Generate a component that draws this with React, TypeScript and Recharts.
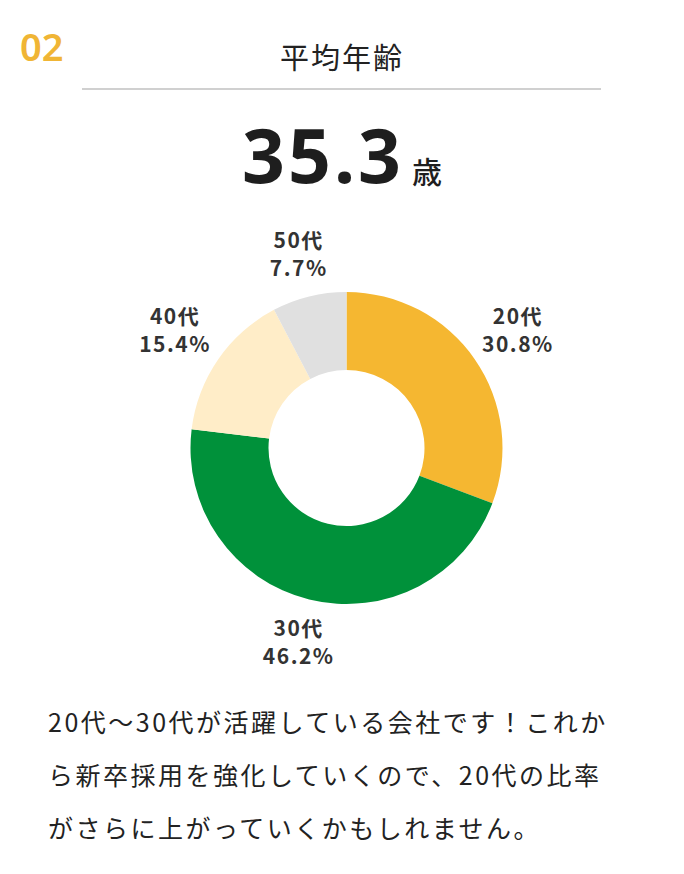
import React from 'react';
import { PieChart, Pie, Cell } from 'recharts';

const ageGroups = ['20代', '30代', '40代', '50代'];
const shares = [30.8, 46.2, 15.4, 7.7];
const sliceColors = ['#F5B731', '#00913A', '#FFEDC8', '#E0E0E0'];

const chartData = ageGroups.map((name, i) => ({ name, value: shares[i] }));

const RADIAN = Math.PI / 180;
const labelFont = '"Noto Sans CJK JP", "Noto Sans", sans-serif';

const renderLabel = (props: any) => {
  const { cx, cy, midAngle, index } = props;
  const c = Math.cos(-midAngle * RADIAN);
  const r = 196 + 15 * Math.abs(c);
  const x = cx + r * c;
  const y = cy + r * Math.sin(-midAngle * RADIAN);
  return (
    <text
      x={x}
      y={y}
      textAnchor="middle"
      fill="#333"
      fontSize={21}
      fontWeight={700}
      letterSpacing={1.5}
      fontFamily={labelFont}
    >
      <tspan x={x} dy={-6}>
        {ageGroups[index]}
      </tspan>
      <tspan x={x} dy={28}>
        {shares[index].toFixed(1)}%
      </tspan>
    </text>
  );
};

const App: React.FC = () => {
  return (
    <div
      style={{
        position: 'absolute',
        left: 0,
        top: 0,
        width: 684,
        height: 874,
        background: '#fff',
        fontFamily: labelFont,
        color: '#222',
      }}
    >
      <div
        style={{
          position: 'absolute',
          left: 20,
          top: 25,
          fontSize: 38,
          lineHeight: '42px',
          fontWeight: 600,
          color: '#F0B535',
          fontFamily: '"Noto Sans", sans-serif',
        }}
      >
        02
      </div>
      <div
        style={{
          position: 'absolute',
          left: 0,
          width: 684,
          top: 36,
          textAlign: 'center',
          fontSize: 29,
          lineHeight: '40px',
          fontWeight: 400,
          letterSpacing: 2,
        }}
      >
        平均年齢
      </div>
      <div
        style={{
          position: 'absolute',
          left: 82,
          width: 519,
          top: 88,
          height: 2,
          background: '#D0D0D0',
        }}
      />
      <div
        style={{
          position: 'absolute',
          left: 0,
          width: 684,
          top: 106,
          display: 'flex',
          justifyContent: 'center',
          alignItems: 'baseline',
          color: '#1E1E1E',
        }}
      >
        <span
          style={{
            fontSize: 75,
            fontWeight: 700,
            letterSpacing: 3,
            lineHeight: '96px',
            fontFamily: '"Noto Sans", sans-serif',
          }}
        >
          35.3
        </span>
        <span style={{ fontSize: 30, fontWeight: 500, marginLeft: 8 }}>歳</span>
      </div>
      <div style={{ position: 'absolute', left: 0, top: 203 }}>
        <PieChart width={684} height={480}>
          <Pie
            data={chartData}
            dataKey="value"
            nameKey="name"
            cx={341.5}
            cy={240}
            innerRadius={78}
            outerRadius={156}
            startAngle={90}
            endAngle={-270}
            stroke="none"
            labelLine={false}
            label={renderLabel}
            isAnimationActive={false}
          >
            {chartData.map((entry, index) => (
              <Cell key={`cell-${index}`} fill={sliceColors[index]} />
            ))}
          </Pie>
        </PieChart>
      </div>
      <div
        style={{
          position: 'absolute',
          left: 48,
          top: 695,
          fontSize: 25,
          lineHeight: '53px',
          letterSpacing: 2.5,
          fontWeight: 400,
          color: '#222',
        }}
      >
        <div>20代〜30代が活躍している会社です！これか</div>
        <div>ら新卒採用を強化していくので、20代の比率</div>
        <div>がさらに上がっていくかもしれません。</div>
      </div>
    </div>
  );
};

export default App;
